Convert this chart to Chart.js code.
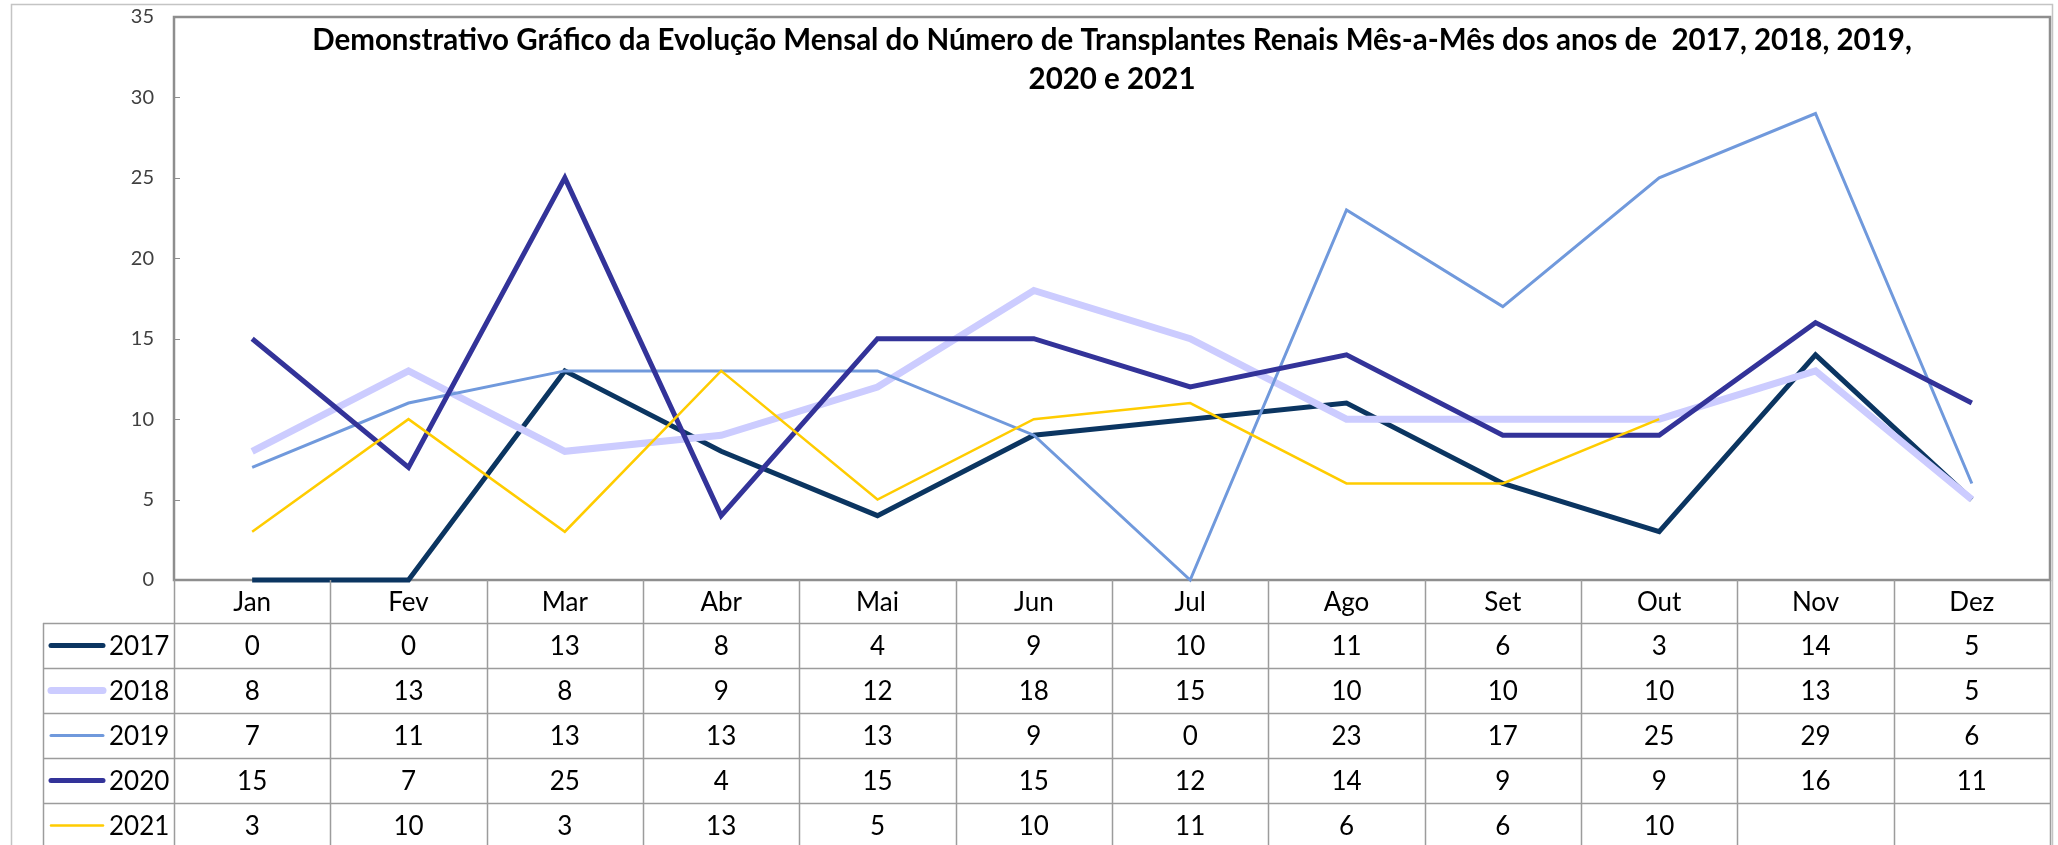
<!DOCTYPE html>
<html>
<head>
<meta charset="utf-8">
<script src="https://cdn.jsdelivr.net/npm/chart.js@4.4.1/dist/chart.umd.min.js"></script>
<style>
  html, body { margin: 0; padding: 0; background: #fff; }
  #chart { display: block; }
</style>
</head>
<body>
<canvas id="chart" width="2058" height="845"></canvas>
<script>
const months = ['Jan', 'Fev', 'Mar', 'Abr', 'Mai', 'Jun', 'Jul', 'Ago', 'Set', 'Out', 'Nov', 'Dez'];
const years = ['2017', '2018', '2019', '2020', '2021'];

const v2017 = [0, 0, 13, 8, 4, 9, 10, 11, 6, 3, 14, 5];
const v2018 = [8, 13, 8, 9, 12, 18, 15, 10, 10, 10, 13, 5];
const v2019 = [7, 11, 13, 13, 13, 9, 0, 23, 17, 25, 29, 6];
const v2020 = [15, 7, 25, 4, 15, 15, 12, 14, 9, 9, 16, 11];
const v2021 = [3, 10, 3, 13, 5, 10, 11, 6, 6, 10, null, null];

const yTicks = [0, 5, 10, 15, 20, 25, 30, 35];

const titleLines = [
  'Demonstrativo Gráfico da Evolução Mensal do Número de Transplantes Renais Mês-a-Mês dos anos de  2017, 2018, 2019,',
  '2020 e 2021',
];

const seriesValues = [v2017, v2018, v2019, v2020, v2021];
const lineColors = ['#0b3561', '#ccccff', '#7099dc', '#333399', '#ffcc00'];
const lineWidths = [5, 7, 3, 5, 2.5];

const FONT = 'Lato, "Open Sans", sans-serif';
const gridGray = '#9c9c9c';

// frame, inner ticks and title
const framePlugin = {
  id: 'frame',
  beforeDatasetsDraw(chart) {
    const { ctx, chartArea: ca } = chart;
    const y = chart.scales.y;
    ctx.save();
    // outer chart frame
    ctx.strokeStyle = '#c4c4c4';
    ctx.lineWidth = 1.5;
    ctx.beginPath();
    ctx.moveTo(11.5, 850);
    ctx.lineTo(11.5, 4.5);
    ctx.lineTo(2052.5, 4.5);
    ctx.lineTo(2052.5, 850);
    ctx.stroke();
    // plot area frame
    ctx.strokeStyle = '#8e8e8e';
    ctx.lineWidth = 2.5;
    ctx.strokeRect(ca.left, ca.top, ca.right - ca.left, ca.bottom - ca.top);
    // inner tick marks
    ctx.lineWidth = 1;
    ctx.strokeStyle = '#8e8e8e';
    yTicks.forEach((t) => {
      const py = Math.round(y.getPixelForValue(t)) + 0.5;
      ctx.beginPath();
      ctx.moveTo(ca.left, py);
      ctx.lineTo(ca.left + 6, py);
      ctx.stroke();
    });
    // title
    ctx.fillStyle = '#000';
    ctx.font = 'bold 29.5px ' + FONT;
    ctx.textAlign = 'center';
    ctx.textBaseline = 'middle';
    const cx = (ca.left + ca.right) / 2;
    ctx.fillText(titleLines[0], cx, 40);
    ctx.fillText(titleLines[1], cx, 79);
    ctx.restore();
  },
};

// data table below the plot
const tablePlugin = {
  id: 'dataTable',
  afterDraw(chart) {
    const { ctx, chartArea: ca } = chart;
    const x = chart.scales.x;
    const step = (ca.right - ca.left) / months.length;
    const headTop = ca.bottom;
    const headH = 43;
    const rowH = 45;
    const legLeft = 43;
    const bottom = 850;

    ctx.save();
    ctx.strokeStyle = gridGray;
    ctx.lineWidth = 1.5;

    // vertical lines
    for (let i = 0; i <= months.length; i++) {
      const px = Math.round(ca.left + step * i) + 0.5;
      ctx.beginPath();
      ctx.moveTo(px, headTop);
      ctx.lineTo(px, bottom);
      ctx.stroke();
    }
    ctx.beginPath();
    ctx.moveTo(legLeft + 0.5, headTop + headH);
    ctx.lineTo(legLeft + 0.5, bottom);
    ctx.stroke();

    // horizontal lines
    for (let r = 0; r <= years.length; r++) {
      const py = Math.round(headTop + headH + rowH * r) + 0.5;
      ctx.beginPath();
      ctx.moveTo(legLeft, py);
      ctx.lineTo(ca.right, py);
      ctx.stroke();
    }

    ctx.fillStyle = '#000';
    ctx.font = '26px ' + FONT;
    ctx.textAlign = 'center';
    ctx.textBaseline = 'middle';

    months.forEach((m, i) => {
      ctx.fillText(m, x.getPixelForValue(i), headTop + headH / 2 + 1);
    });

    years.forEach((yr, r) => {
      const cy = headTop + headH + rowH * r + rowH / 2 + 1;
      // legend key
      ctx.save();
      ctx.strokeStyle = lineColors[r];
      ctx.lineWidth = lineWidths[r];
      ctx.lineCap = 'round';
      ctx.beginPath();
      ctx.moveTo(51, cy - 1);
      ctx.lineTo(103, cy - 1);
      ctx.stroke();
      ctx.restore();
      ctx.textAlign = 'left';
      ctx.fillText(yr, 109, cy);
      ctx.textAlign = 'center';
      seriesValues[r].forEach((v, i) => {
        if (v !== null) ctx.fillText(String(v), x.getPixelForValue(i), cy);
      });
    });
    ctx.restore();
  },
};

new Chart(document.getElementById('chart'), {
  type: 'line',
  data: {
    labels: months,
    datasets: years.map((yr, i) => ({
      label: yr,
      data: seriesValues[i],
      borderColor: lineColors[i],
      backgroundColor: lineColors[i],
      borderWidth: lineWidths[i],
      pointRadius: 0,
      tension: 0,
      spanGaps: false,
      clip: false,
      order: years.length - i,
    })),
  },
  options: {
    responsive: false,
    animation: false,
    devicePixelRatio: 1,
    layout: { padding: { top: 17, right: 8, bottom: 265, left: 0 } },
    plugins: {
      legend: { display: false },
      title: { display: false },
      tooltip: { enabled: false },
    },
    scales: {
      x: {
        type: 'category',
        offset: true,
        display: false,
      },
      y: {
        min: 0,
        max: 35,
        afterFit(scale) {
          scale.width = 174;
          scale.paddingTop = 0;
          scale.paddingBottom = 0;
        },
        afterBuildTicks(scale) { scale.ticks = yTicks.map((v) => ({ value: v })); },
        grid: { display: false, drawTicks: false },
        border: { display: false },
        ticks: {
          color: '#404040',
          padding: 20,
          font: { family: FONT, size: 20 },
        },
      },
    },
  },
  plugins: [framePlugin, tablePlugin],
});
</script>
</body>
</html>
